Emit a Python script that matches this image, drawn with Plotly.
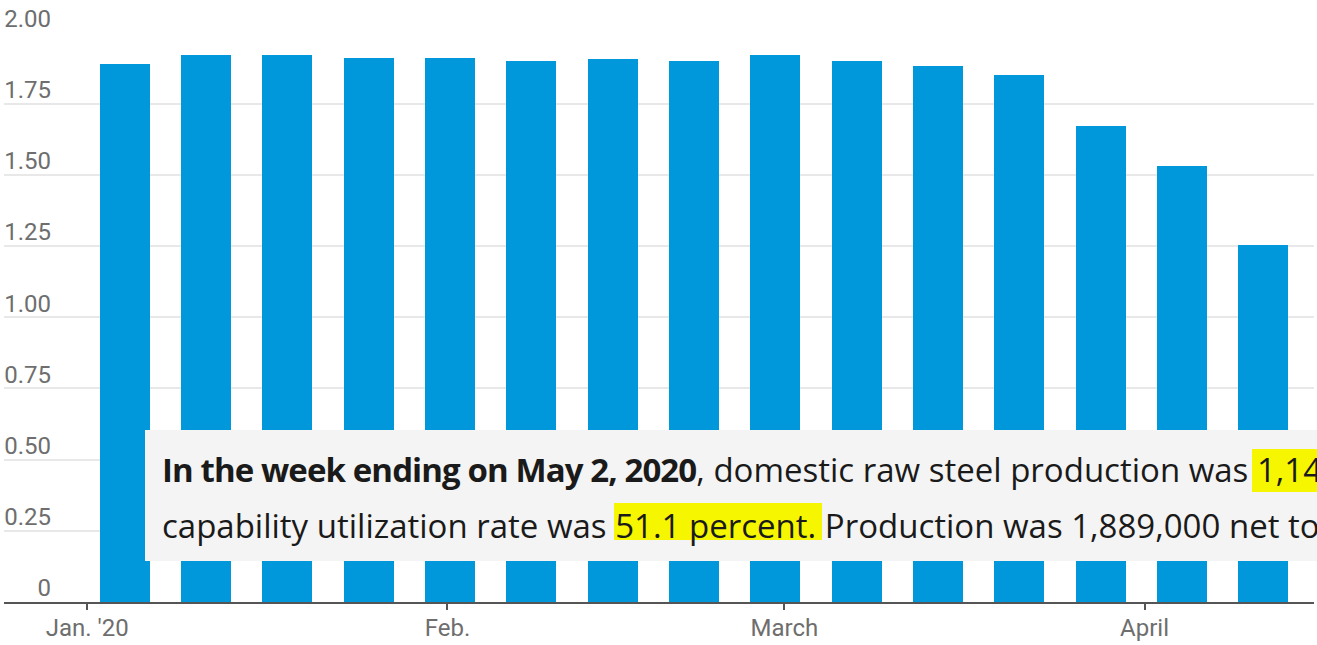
import plotly.graph_objects as go

# Weekly raw steel production, millions of net tons (week ending Saturday)
weeks = ["2020-01-04", "2020-01-11", "2020-01-18", "2020-01-25", "2020-02-01",
         "2020-02-08", "2020-02-15", "2020-02-22", "2020-02-29", "2020-03-07",
         "2020-03-14", "2020-03-21", "2020-03-28", "2020-04-04", "2020-04-11"]
production = [1.89, 1.92, 1.92, 1.91, 1.91, 1.90, 1.905, 1.90, 1.92, 1.90,
              1.88, 1.85, 1.67, 1.53, 1.255]

y_ticks = [0, 0.25, 0.5, 0.75, 1.0, 1.25, 1.5, 1.75, 2.0]
y_tick_text = ["0", "0.25", "0.50", "0.75", "1.00", "1.25", "1.50", "1.75", "2.00"]
x_ticks = ["2020-01-01", "2020-02-01", "2020-03-01", "2020-04-01"]
x_tick_text = ["Jan. '20", "Feb.", "March", "April"]

W, H = 1317, 645
L, R, T, B = 4, 1314, 32, 602
DAY_MS = 86400000
BAR_DAYS = 4.3

BAR_COLOR = "#0098da"
AXIS_FONT = "Roboto, sans-serif"
NOTE_FONT = "Open Sans, Noto Sans, sans-serif"


def px_x(px):
    return (px - L) / (R - L)


def px_y(py):
    return (B - py) / (B - T)


fig = go.Figure(
    go.Bar(
        x=weeks,
        y=production,
        width=BAR_DAYS * DAY_MS,
        offset=(-BAR_DAYS / 2 + 0.22) * DAY_MS,
        marker=dict(color=BAR_COLOR, line=dict(width=0)),
        hoverinfo="skip",
    )
)

# Note panel laid over the lower part of the chart, with marker highlights
shapes = [
    dict(type="rect", xref="paper", yref="paper", layer="above",
         x0=px_x(145), x1=px_x(1330), y0=px_y(561), y1=px_y(430),
         fillcolor="#f4f4f4", line=dict(width=0)),
    dict(type="rect", xref="paper", yref="paper", layer="above",
         x0=px_x(1252), x1=px_x(1330), y0=px_y(492), y1=px_y(449),
         fillcolor="#f6f600", line=dict(width=0)),
    dict(type="rect", xref="paper", yref="paper", layer="above",
         x0=px_x(614), x1=px_x(822), y0=px_y(540), y1=px_y(503),
         fillcolor="#f6f600", line=dict(width=0)),
]

note_lines = [
    "<span style=\"letter-spacing:-0.9px\"><b>In the week ending on May 2, 2020</b></span>"
    ", domestic raw steel production was 1,14",
    "capability utilization rate was 51.1 percent. Production was 1,889,000 net to",
]
annotations = [
    dict(text=note_lines[0], xref="paper", yref="paper", x=px_x(160), y=px_y(470),
         xanchor="left", yanchor="middle", showarrow=False,
         font=dict(family=NOTE_FONT, size=33, color="#1a1a1a")),
    dict(text=note_lines[1], xref="paper", yref="paper", x=px_x(160), y=px_y(525),
         xanchor="left", yanchor="middle", showarrow=False,
         font=dict(family=NOTE_FONT, size=33, color="#1a1a1a")),
]

fig.update_layout(
    width=W, height=H,
    margin=dict(l=L, r=W - R, t=T, b=H - B, pad=0, autoexpand=False),
    paper_bgcolor="white", plot_bgcolor="white",
    showlegend=False,
    bargap=0,
    shapes=shapes,
    annotations=annotations,
    xaxis=dict(
        type="date",
        range=["2019-12-24 20:00", "2020-04-15 14:00"],
        tickvals=x_ticks, ticktext=x_tick_text,
        showgrid=False, zeroline=False,
        showline=True, linecolor="#555555", linewidth=2,
        ticks="outside", ticklen=6, tickwidth=2, tickcolor="#555555",
        ticklabelstandoff=-3,
        tickfont=dict(family=AXIS_FONT, size=24, color="#6e6e6e"),
        automargin=False, fixedrange=True,
    ),
    yaxis=dict(
        range=[0, 2.001],
        tickvals=y_ticks, ticktext=y_tick_text,
        showgrid=True, gridcolor="#e8e8e8", gridwidth=2,
        zeroline=False, showline=False, ticks="",
        ticklabelposition="outside",
        ticklabelstandoff=-48, ticklabelshift=-14,
        tickfont=dict(family=AXIS_FONT, size=24, color="#6e6e6e"),
        automargin=False, fixedrange=True,
    ),
)

fig.write_html("out.html", config=dict(displayModeBar=False))
